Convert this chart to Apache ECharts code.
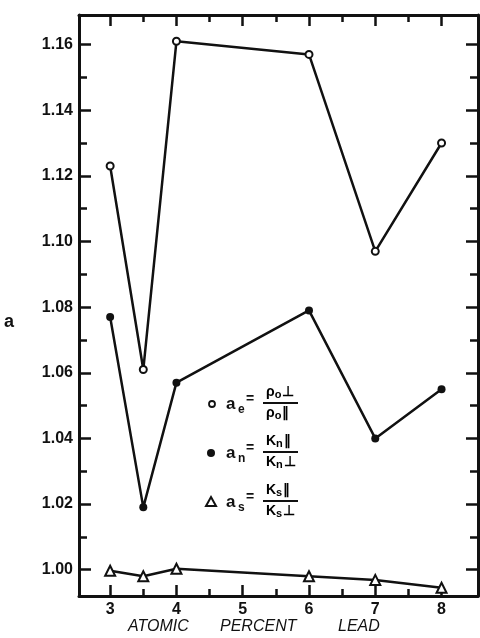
<!DOCTYPE html>
<html>
<head>
<meta charset="utf-8">
<script src="https://cdn.jsdelivr.net/npm/echarts@6/dist/echarts.min.js"></script>
<style>
  html, body { margin: 0; padding: 0; background: #fff; }
  #chart { width: 480px; height: 638px; }
</style>
</head>
<body>
<div id="chart"></div>
<script>
// Atomic percent lead
const leadPercent = [3, 3.5, 4, 6, 7, 8];
// anisotropy ratios
const aE = [1.123, 1.061, 1.161, 1.157, 1.097, 1.130];
const aN = [1.077, 1.019, 1.057, 1.079, 1.040, 1.055];
const aS = [0.9997, 0.998, 1.0003, 0.998, 0.9969, 0.9945];

const xMajorTicks = [3, 4, 5, 6, 7, 8];
const xMinorTicks = [3.5, 4.5, 5.5, 6.5, 7.5];
const yMajorTicks = [1.00, 1.02, 1.04, 1.06, 1.08, 1.10, 1.12, 1.14, 1.16];
const yMinorTicks = [1.01, 1.03, 1.05, 1.07, 1.09, 1.11, 1.13, 1.15];

const X_MIN = 2.53, X_MAX = 8.55, Y_MIN = 0.992, Y_MAX = 1.169;
const INK = '#111';
const FONT = 'Liberation Sans';

function xAx(pos, ticks, len, showLine, showLabel) {
  return {
    type: 'value', position: pos, min: X_MIN, max: X_MAX,
    axisLine: { show: showLine, onZero: false, lineStyle: { color: INK, width: 3 } },
    axisTick: { show: true, inside: true, length: len, customValues: ticks, lineStyle: { color: INK, width: 2.5 } },
    axisLabel: { show: showLabel, customValues: ticks, color: INK, fontFamily: FONT, fontWeight: 'bold', fontSize: 16, margin: 6 },
    splitLine: { show: false }
  };
}
function yAx(pos, ticks, len, showLine, showLabel) {
  return {
    type: 'value', position: pos, min: Y_MIN, max: Y_MAX,
    axisLine: { show: showLine, onZero: false, lineStyle: { color: INK, width: 3 } },
    axisTick: { show: true, inside: true, length: len, customValues: ticks, lineStyle: { color: INK, width: 2.5 } },
    axisLabel: { show: showLabel, customValues: ticks, color: INK, fontFamily: FONT, fontWeight: 'bold', fontSize: 16, margin: 6,
      formatter: v => v.toFixed(2) },
    splitLine: { show: false }
  };
}

const lineStyle = { color: INK, width: 2.5 };

const chart = echarts.init(document.getElementById('chart'), null, { renderer: 'canvas' });

const richStyles = {
  m: { fontFamily: FONT, fontWeight: 'bold', fontSize: 14, color: INK },
  s: { fontFamily: FONT, fontWeight: 'bold', fontSize: 11, color: INK, padding: [6, 1, 0, 0] }
};

// legend entries: symbol "a" with subscript, and a fraction
function legendEntry(y, sub, numMain, numSub, numEnd, denEnd) {
  return [
    { type: 'text', left: 226, top: y - 9, style: { text: 'a', font: 'bold 17px ' + FONT, fill: INK } },
    { type: 'text', left: 238, top: y - 1, style: { text: sub, font: 'bold 12px ' + FONT, fill: INK } },
    { type: 'text', left: 246, top: y - 13, style: { text: '=', font: 'bold 14px ' + FONT, fill: INK } },
    { type: 'line', shape: { x1: 263, y1: y - 2, x2: 298, y2: y - 2 }, style: { stroke: INK, lineWidth: 2 } },
    { type: 'text', left: 266, top: y - 20, style: { rich: richStyles,
        text: '{m|' + numMain + '}{s|' + numSub + '}{m|' + numEnd + '}' } },
    { type: 'text', left: 266, top: y + 1, style: { rich: richStyles,
        text: '{m|' + numMain + '}{s|' + numSub + '}{m|' + denEnd + '}' } }
  ];
}

chart.setOption({
  backgroundColor: '#fff',
  animation: false,
  grid: { left: 79, right: 2, top: 15, bottom: 42 },
  xAxis: [
    xAx('bottom', xMajorTicks, 11, true, true),
    xAx('bottom', xMinorTicks, 7, false, false),
    xAx('top', xMajorTicks, 11, true, false),
    xAx('top', xMinorTicks, 7, false, false)
  ],
  yAxis: [
    yAx('left', yMajorTicks, 12, true, true),
    yAx('left', yMinorTicks, 8, false, false),
    yAx('right', yMajorTicks, 12, true, false),
    yAx('right', yMinorTicks, 8, false, false)
  ],
  series: [
    { name: 'ae', type: 'line', data: leadPercent.map((x, i) => [x, aE[i]]),
      symbol: 'emptyCircle', symbolSize: 7, lineStyle,
      itemStyle: { color: INK, borderColor: INK, borderWidth: 1.8 } },
    { name: 'an', type: 'line', data: leadPercent.map((x, i) => [x, aN[i]]),
      symbol: 'circle', symbolSize: 8, lineStyle,
      itemStyle: { color: INK } },
    { name: 'as', type: 'line', data: leadPercent.map((x, i) => [x, aS[i]]),
      symbol: 'emptyTriangle', symbolSize: 10, lineStyle,
      itemStyle: { color: INK, borderColor: INK, borderWidth: 2 } }
  ],
  graphic: [
    { type: 'text', left: 4, top: 313, style: { text: 'a', font: 'bold 18px ' + FONT, fill: INK } },
    { type: 'text', left: 128, top: 619, style: { text: 'ATOMIC', font: 'italic 16px ' + FONT, fill: INK } },
    { type: 'text', left: 220, top: 619, style: { text: 'PERCENT', font: 'italic 16px ' + FONT, fill: INK } },
    { type: 'text', left: 338, top: 619, style: { text: 'LEAD', font: 'italic 16px ' + FONT, fill: INK } },
    // legend markers
    { type: 'circle', shape: { cx: 212, cy: 404, r: 3 }, style: { fill: '#fff', stroke: INK, lineWidth: 1.8 } },
    { type: 'circle', shape: { cx: 211, cy: 453, r: 4 }, style: { fill: INK } },
    { type: 'polygon', shape: { points: [[211, 497], [216, 506], [206, 506]] }, style: { fill: '#fff', stroke: INK, lineWidth: 2 } },
    ...legendEntry(405, 'e', 'ρ', 'o', '⊥', '∥'),
    ...legendEntry(454, 'n', 'K', 'n', '∥', '⊥'),
    ...legendEntry(503, 's', 'K', 's', '∥', '⊥')
  ]
});
</script>
</body>
</html>
